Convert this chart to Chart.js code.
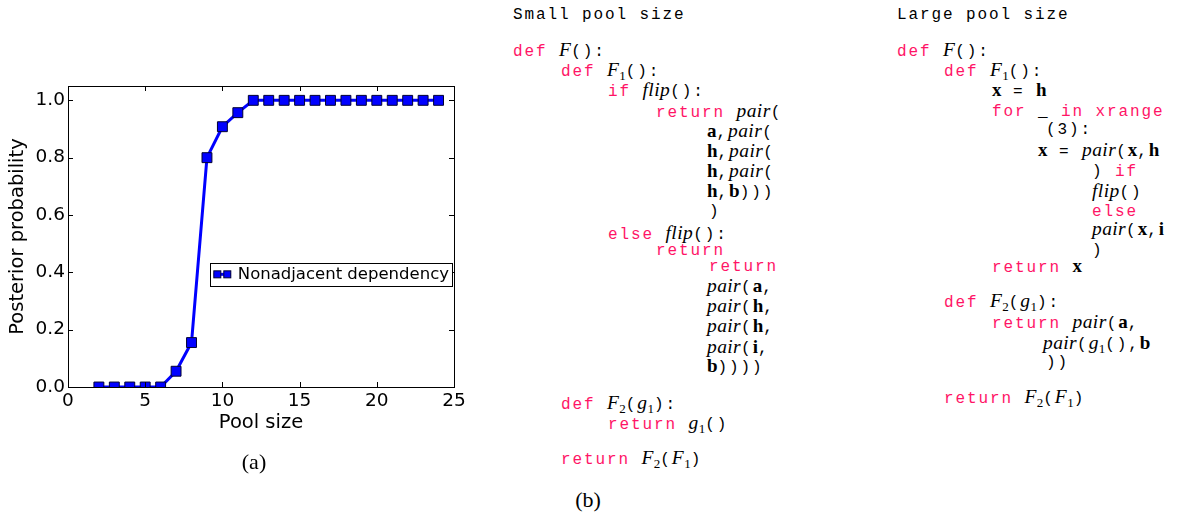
<!DOCTYPE html>
<html>
<head>
<meta charset="utf-8">
<script src="https://cdn.jsdelivr.net/npm/chart.js@4/dist/chart.umd.min.js"></script>
<style>
  html, body { margin: 0; padding: 0; background: #fff; }
  #page { position: relative; width: 1179px; height: 514px; overflow: hidden; background: #fff; }
  #plot { position: absolute; left: 0; top: 0; width: 480px; height: 514px; }
  .c { position: absolute; white-space: pre; font: 16px "Liberation Mono", monospace; letter-spacing: 1.9px; line-height: 20px; color: #000; }
  .k { color: #ff1466; line-height: 0; }
  .m { font: italic 19.5px "Liberation Serif", serif; letter-spacing: 0.4px; line-height: 0; }
  .b { font: bold 19px "Liberation Serif", serif; letter-spacing: 0; line-height: 0; }
  .m sub { font-style: normal; font-size: 13px; line-height: 0; vertical-align: -4px; letter-spacing: 0; }
  .cap { position: absolute; font: 22px "Liberation Serif", serif; line-height: 24px; color: #000; transform: translate(-50%, -50%); }
</style>
</head>
<body>
<div id="page">
  <div id="plot"><canvas id="chart" width="480" height="514"></canvas></div>
  <div class="cap" style="left:254px; top:462px">(a)</div>
  <div class="cap" style="left:588px; top:500px">(b)</div>
</div>
<script>
// dados do gráfico (a)
const poolSizes = [2, 3, 4, 5, 6, 7, 8, 9, 10, 11, 12, 13, 14, 15, 16, 17, 18, 19, 20, 21, 22, 23, 24];
const posterior = [0, 0, 0, 0, 0, 0.055, 0.155, 0.80, 0.908, 0.957, 1, 1, 1, 1, 1, 1, 1, 1, 1, 1, 1, 1, 1];
const serieNome = 'Nonadjacent dependency';
const xTicks = [0, 5, 10, 15, 20, 25];
const yTicks = [0, 0.2, 0.4, 0.6, 0.8, 1.0];

// helpers para o código (b)
const k = s => '<span class="k">' + s + '</span>';
const m = s => '<span class="m">' + s + '</span>';
const b = s => '<span class="b">' + s + '</span>';
const F = n => m('F<sub>' + n + '</sub>');
const g1 = m('g<sub>1</sub>');

const linhasCodigo = [
    [513, 15, 'Small pool size'],
    [513, 52, k('def') + ' ' + m('F') + '():'],
    [561, 72, k('def') + ' ' + F(1) + '():'],
    [608, 92, k('if') + ' ' + m('flip') + '():'],
    [656, 113, k('return') + ' ' + m('pair') + '('],
    [707, 133, b('a') + ',' + m('pair') + '('],
    [707, 153, b('h') + ',' + m('pair') + '('],
    [707, 173, b('h') + ',' + m('pair') + '('],
    [707, 193, b('h') + ',' + b('b') + ')))'],
    [709, 212, ')'],
    [608, 235, k('else') + ' ' + m('flip') + '():'],
    [656, 251, k('return')],
    [709, 267, k('return')],
    [707, 288, m('pair') + '(' + b('a') + ','],
    [707, 308, m('pair') + '(' + b('h') + ','],
    [707, 328, m('pair') + '(' + b('h') + ','],
    [707, 349, m('pair') + '(' + b('i') + ','],
    [707, 368, b('b') + '))))'],
    [561, 405, k('def') + ' ' + F(2) + '(' + g1 + '):'],
    [608, 425, k('return') + ' ' + g1 + '()'],
    [561, 460, k('return') + ' ' + F(2) + '(' + F(1) + ')'],

    [897, 15, 'Large pool size'],
    [897, 52, k('def') + ' ' + m('F') + '():'],
    [944, 72, k('def') + ' ' + F(1) + '():'],
    [992, 92, b('x') + ' = ' + b('h')],
    [992, 112, k('for') + ' _ ' + k('in') + ' ' + k('xrange')],
    [1046, 130, '(3):'],
    [1038, 152, b('x') + ' = ' + m('pair') + '(' + b('x') + ',' + b('h')],
    [1092, 172, ') ' + k('if')],
    [1092, 193, m('flip') + '()'],
    [1092, 212, k('else')],
    [1092, 231, m('pair') + '(' + b('x') + ',' + b('i')],
    [1092, 251, ')'],
    [992, 268, k('return') + ' ' + b('x')],
    [944, 303, k('def') + ' ' + F(2) + '(' + g1 + '):'],
    [992, 324, k('return') + ' ' + m('pair') + '(' + b('a') + ','],
    [1043, 345, m('pair') + '(' + g1 + '(),' + b('b')],
    [1046, 363, '))'],
    [944, 399, k('return') + ' ' + F(2) + '(' + F(1) + ')']
];

const page = document.getElementById('page');
linhasCodigo.forEach(([x, y, html]) => {
    const d = document.createElement('div');
    d.className = 'c';
    d.style.left = x + 'px';
    d.style.top = (y - 10) + 'px';
    d.innerHTML = html;
    page.appendChild(d);
});

// moldura + ticks para dentro (estilo matplotlib)
const molduraPlugin = {
    id: 'moldura',
    afterDatasetsDraw(chart) {
        const { ctx, chartArea: a, scales } = chart;
        ctx.save();
        ctx.strokeStyle = '#000';
        ctx.lineWidth = 1;
        ctx.strokeRect(Math.round(a.left) + 0.5, Math.round(a.top) + 0.5, Math.round(a.right - a.left), Math.round(a.bottom - a.top));
        const tl = 5;
        ctx.beginPath();
        xTicks.forEach(v => {
            const px = Math.round(scales.x.getPixelForValue(v)) + 0.5;
            ctx.moveTo(px, a.bottom); ctx.lineTo(px, a.bottom - tl);
            ctx.moveTo(px, a.top); ctx.lineTo(px, a.top + tl);
        });
        yTicks.forEach(v => {
            const py = Math.round(scales.y.getPixelForValue(v)) + 0.5;
            ctx.moveTo(a.left, py); ctx.lineTo(a.left + tl, py);
            ctx.moveTo(a.right, py); ctx.lineTo(a.right - tl, py);
        });
        ctx.stroke();
        ctx.restore();
    },
    afterDraw(chart) {
        // legenda dentro do gráfico
        const { ctx, chartArea: a, scales } = chart;
        const ds = chart.data.datasets[0];
        ctx.save();
        ctx.font = '16.5px "DejaVu Sans"';
        const tw = ctx.measureText(ds.label).width;
        const w = 4 + 17 + 7 + tw + 3, h = 23;
        const right = a.right - 2;
        const left = right - w;
        const cy = scales.y.getPixelForValue(0.4) + 2;
        const top = cy - h / 2;
        ctx.fillStyle = '#fff';
        ctx.fillRect(left, top, w, h);
        ctx.strokeStyle = '#000';
        ctx.lineWidth = 1;
        ctx.strokeRect(Math.round(left) + 0.5, Math.round(top) + 0.5, Math.round(w), h);
        const sx = left + 4;
        ctx.strokeStyle = ds.borderColor;
        ctx.lineWidth = 3;
        ctx.beginPath(); ctx.moveTo(sx, cy); ctx.lineTo(sx + 17, cy); ctx.stroke();
        ctx.fillStyle = ds.pointBackgroundColor;
        ctx.strokeStyle = ds.pointBorderColor;
        ctx.lineWidth = 1;
        [sx + 3.5, sx + 13.5].forEach(px => {
            ctx.fillRect(px - 3.5, cy - 3.5, 7, 7);
            ctx.strokeRect(px - 3.5, cy - 3.5, 7, 7);
        });
        ctx.fillStyle = '#000';
        ctx.textBaseline = 'middle';
        ctx.fillText(ds.label, sx + 24, cy);
        ctx.restore();
    }
};

new Chart(document.getElementById('chart'), {
    type: 'line',
    data: {
        datasets: [{
            label: serieNome,
            data: poolSizes.map((x, i) => ({ x, y: posterior[i] })),
            borderColor: '#0000ff',
            borderWidth: 3,
            pointStyle: 'rect',
            pointRadius: 7,
            pointHoverRadius: 7,
            pointBackgroundColor: '#0000ff',
            pointBorderColor: '#000033',
            pointBorderWidth: 1,
            tension: 0,
            fill: false
        }]
    },
    options: {
        responsive: false,
        animation: false,
        events: [],
        layout: { padding: { left: 0, top: 86, right: 26, bottom: 77 } },
        plugins: { legend: { display: false }, tooltip: { enabled: false } },
        scales: {
            x: {
                type: 'linear',
                min: 0, max: 25,
                afterFit: s => { s.height = 50; },
                afterBuildTicks: s => { s.ticks = xTicks.map(v => ({ value: v })); },
                grid: { display: false, drawTicks: false },
                border: { display: false },
                ticks: { color: '#000', padding: 3, font: { family: 'DejaVu Sans', size: 18.5 } },
                title: { display: true, text: 'Pool size', color: '#000', padding: { top: 0, bottom: 2 }, font: { family: 'DejaVu Sans', size: 19.5 } }
            },
            y: {
                min: 0, max: 1.05,
                afterFit: s => { s.width = 68; },
                afterBuildTicks: s => { s.ticks = yTicks.map(v => ({ value: v })); },
                grid: { display: false, drawTicks: false },
                border: { display: false },
                ticks: { color: '#000', padding: 3, font: { family: 'DejaVu Sans', size: 18.5 }, callback: v => v.toFixed(1) },
                title: { display: true, text: 'Posterior probability', color: '#000', padding: { top: 6, bottom: 0 }, font: { family: 'DejaVu Sans', size: 19.5 } }
            }
        }
    },
    plugins: [molduraPlugin]
});
</script>
</body>
</html>
